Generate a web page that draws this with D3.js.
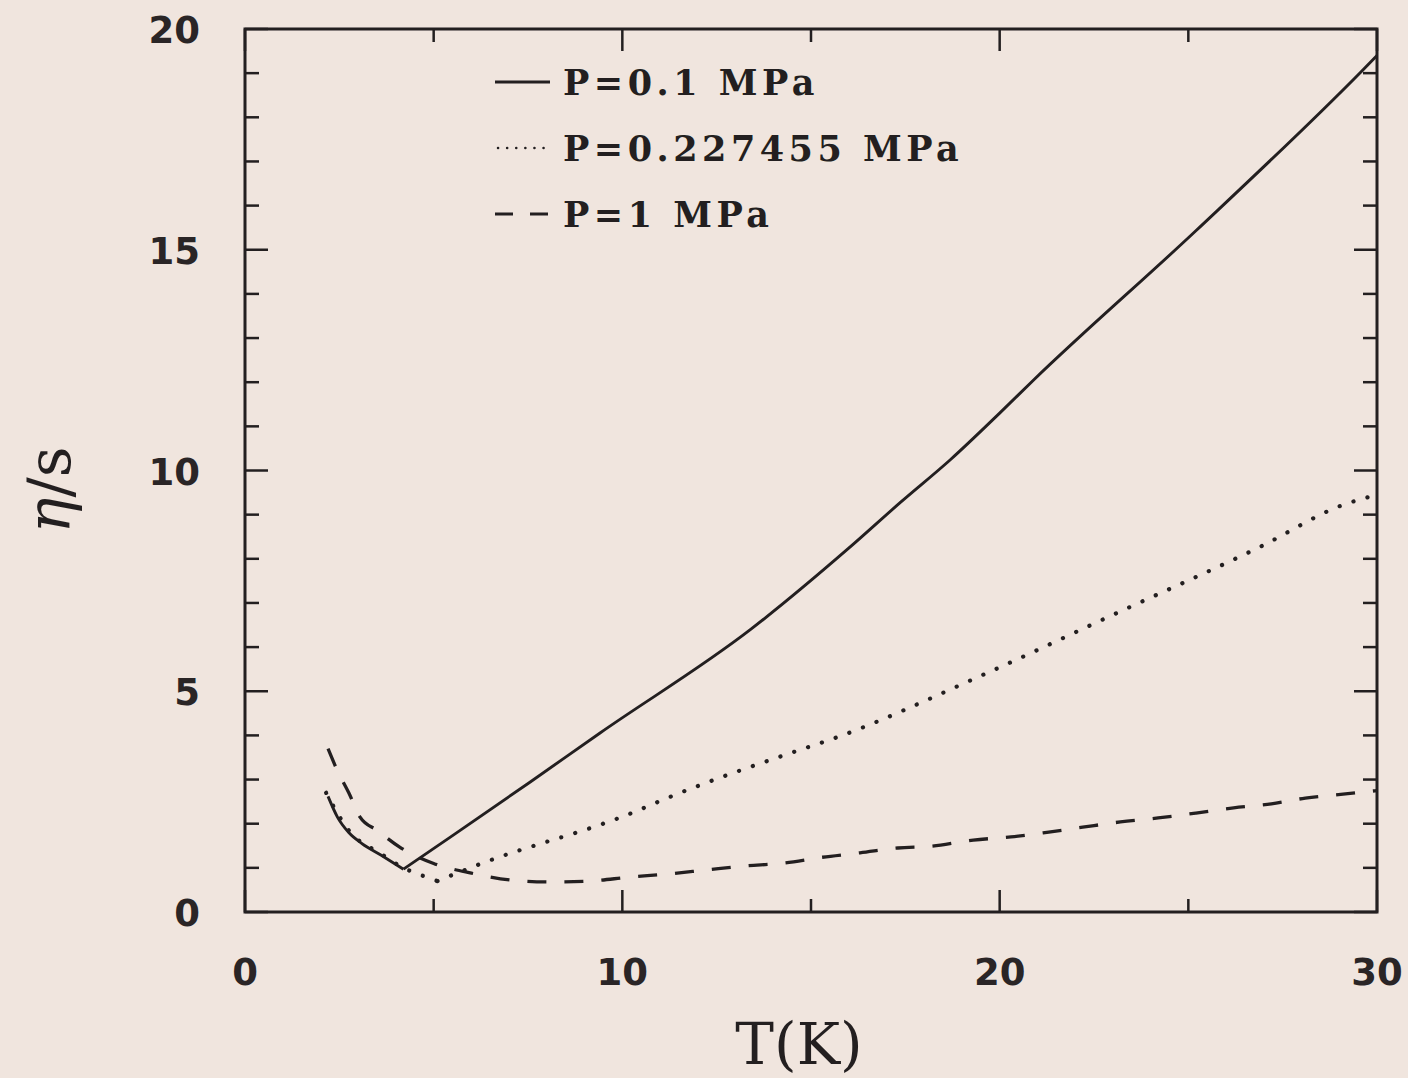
<!DOCTYPE html>
<html>
<head>
<meta charset="utf-8">
<script src="https://cdn.jsdelivr.net/npm/d3@7"></script>
<style>
  body { margin: 0; background: #f0e5de; }
  svg { display: block; }
</style>
</head>
<body>
<div id="chart"></div>
<script>
// eta/s vs T for three pressures
const solidT   = [2.2, 2.45, 2.75, 3.1, 3.6, 4.2, 5.5, 7.55, 9.4, 13.4, 16.0, 17.4, 18.7, 20.0, 20.9, 25.2, 29.6, 30];
const solidEta = [2.62, 2.15, 1.80, 1.55, 1.29, 0.97, 1.73, 2.94, 4.05, 6.4, 8.24, 9.3, 10.25, 11.3, 12.05, 15.43, 19.05, 19.4];

const dottedT   = [2.15, 2.75, 3.6, 4.2, 4.65, 5.1, 5.5, 6.15, 10.3, 11.1, 14.7, 15.5, 19.5, 23.1, 26.9, 29.1, 30];
const dottedEta = [2.7, 1.85, 1.32, 1.0, 0.84, 0.7, 0.84, 1.06, 2.26, 2.55, 3.67, 3.9, 5.35, 6.77, 8.27, 9.22, 9.45];

const dashedT   = [2.2, 2.45, 2.75, 3.05, 3.5, 4.1, 5.0, 6.0, 7.1, 8.1, 9.1, 10.2, 11.2, 12.2, 13.2, 14.3, 15.3, 16.3, 17.3, 18.2, 19.3, 20.3, 21.3, 22.2, 23.2, 24.2, 25.2, 26.2, 27.2, 28.1, 29.1, 30];
const dashedEta = [3.7, 3.2, 2.7, 2.15, 1.85, 1.47, 1.1, 0.88, 0.72, 0.68, 0.7, 0.79, 0.86, 0.95, 1.04, 1.11, 1.24, 1.34, 1.45, 1.49, 1.63, 1.7, 1.81, 1.92, 2.04, 2.13, 2.24, 2.36, 2.45, 2.58, 2.67, 2.75];

const xTicks = [0, 10, 20, 30];
const yTicks = [0, 5, 10, 15, 20];
const legendLabels = ["P=0.1 MPa", "P=0.227455 MPa", "P=1 MPa"];

var width = 1408;
var height = 1078;
var margin = { top: 29, right: 31, bottom: 166, left: 245 };
var w = width - margin.left - margin.right;
var h = height - margin.top - margin.bottom;

var svg = d3.select("#chart").append("svg")
  .attr("width", width)
  .attr("height", height)

svg.append("rect")
  .attr("width", "100%")
  .attr("height", "100%")
  .attr("fill", "#f0e5de");

var g = svg.append("g")
  .attr("transform", "translate(" + margin.left + "," + margin.top + ")");

var x = d3.scaleLinear().domain([0, 30]).range([0, w]);
var y = d3.scaleLinear().domain([0, 20]).range([h, 0]);

const ink = "#231f20";

var xMinor = d3.range(0, 31, 5);
var yMinor = d3.range(0, 21, 1);

// ticks on all four sides, pointing inward
var tickG = g.append("g");
// bottom / top
[[h, -1], [0, 1]].forEach(([yy, dir]) => {
  tickG.selectAll(null).data(xMinor).enter().append("line")
    .attr("x1", d => x(d)).attr("x2", d => x(d))
    .attr("y1", yy).attr("y2", d => yy + dir * (d % 10 === 0 ? 22 : 13))
    .attr("stroke", ink).attr("stroke-width", 2.5);
});
// left / right
[[0, 1], [w, -1]].forEach(([xx, dir]) => {
  tickG.selectAll(null).data(yMinor).enter().append("line")
    .attr("y1", d => y(d)).attr("y2", d => y(d))
    .attr("x1", xx).attr("x2", d => xx + dir * (d % 5 === 0 ? 23 : 14))
    .attr("stroke", ink).attr("stroke-width", 2.5);
});

g.append("rect")
  .attr("width", w)
  .attr("height", h)
  .attr("fill", "none")
  .attr("stroke", ink)
  .attr("stroke-width", 3);

// tick labels
g.selectAll(".xlab")
  .data(xTicks)
  .enter()
  .append("text")
  .attr("class", "xlab")
  .attr("x", d => x(d))
  .attr("y", h + 73)
  .attr("text-anchor", "middle")
  .style("font-family", "DejaVu Sans")
  .style("font-weight", "bold")
  .style("font-size", "37px")
  .attr("fill", "#2a2526")
  .text(d => d);

g.selectAll(".ylab")
  .data(yTicks)
  .enter()
  .append("text")
  .attr("class", "ylab")
  .attr("x", -45)
  .attr("y", d => y(d) + 14)
  .attr("text-anchor", "end")
  .style("font-family", "DejaVu Sans")
  .style("font-weight", "bold")
  .style("font-size", "37px")
  .attr("fill", "#2a2526")
  .text(d => d);

// axis titles
g.append("text")
  .attr("x", w / 2 - 12)
  .attr("y", h + 152)
  .attr("text-anchor", "middle")
  .style("font-family", "DejaVu Serif")
  .style("font-size", "58px")
  .attr("fill", ink)
  .text("T(K)");

var yt = svg.append("text")
  .attr("transform", "translate(70,490) rotate(-90)")
  .attr("text-anchor", "middle")
  .style("font-family", "DejaVu Serif")
  .style("font-size", "60px")
  .attr("fill", ink);
yt.append("tspan").style("font-style", "italic").text("η");
yt.append("tspan").text("/s");

// curves
var line = d3.line()
  .x(d => x(d[0]))
  .y(d => y(d[1]))
  .curve(d3.curveMonotoneX);

const series = [
  { T: solidT, eta: solidEta, dash: null, cap: "butt", sw: 2.9, split: true },
  { T: dottedT, eta: dottedEta, dash: "0.1,14.5", cap: "round", sw: 4.2, split: true },
  { T: dashedT, eta: dashedEta, dash: "19,18", cap: "butt", sw: 3.3, split: false }
];

series.forEach(s => {
  var pts = d3.zip(s.T, s.eta);
  // keep the sharp minimum by drawing both branches separately
  var parts = [pts];
  if (s.split) {
    var k = d3.minIndex(s.eta);
    parts = [pts.slice(0, k + 1), pts.slice(k)];
  }
  parts.forEach(p => {
    g.append("path")
      .datum(p)
      .attr("d", line)
      .attr("fill", "none")
      .attr("stroke", ink)
      .attr("stroke-width", s.sw)
      .attr("stroke-linecap", s.cap)
      .attr("stroke-linejoin", "round")
      .attr("stroke-dasharray", s.dash);
  });
});

// legend
var leg = svg.append("g");
const legendDash = [null, "0.1,9", "18,17"];
legendLabels.forEach((lab, i) => {
  var yy = 82 + i * 66;
  leg.append("line")
    .attr("x1", i === 1 ? 498 : 495)
    .attr("x2", 550)
    .attr("y1", yy)
    .attr("y2", yy)
    .attr("stroke", ink)
    .attr("stroke-width", i === 1 ? 2.5 : 3)
    .attr("stroke-linecap", i === 1 ? "round" : "butt")
    .attr("stroke-dasharray", legendDash[i]);
  leg.append("text")
    .attr("x", 563)
    .attr("y", yy + 13)
    .style("font-family", "DejaVu Serif")
    .style("font-weight", "bold")
    .style("font-size", "35px")
    .style("letter-spacing", "4.5px")
    .attr("fill", ink)
    .text(lab);
});
</script>
</body>
</html>
